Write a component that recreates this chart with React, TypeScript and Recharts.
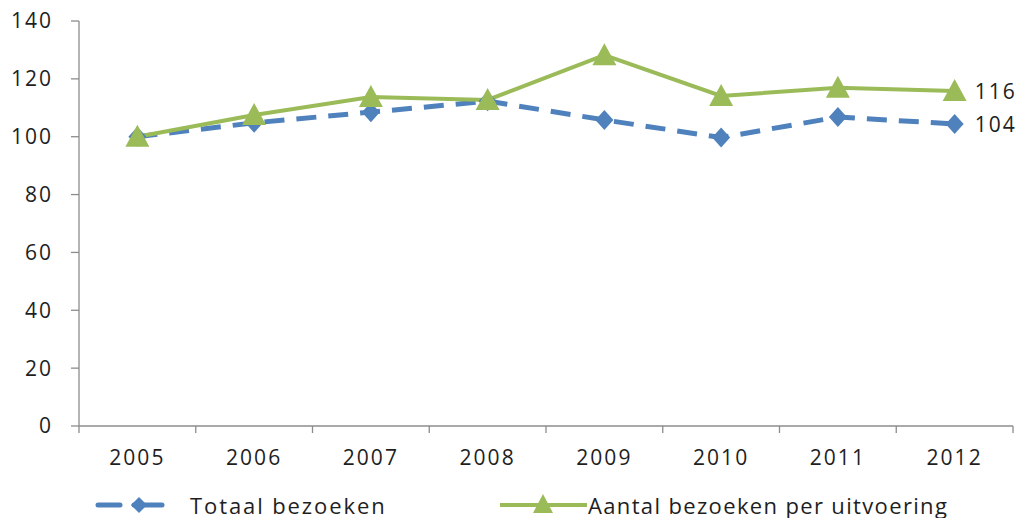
import React from 'react';
import { LineChart, Line, XAxis, YAxis, Legend, LabelList } from 'recharts';

const years = ['2005', '2006', '2007', '2008', '2009', '2010', '2011', '2012'];
const totaalBezoeken = [100, 104.8, 108.5, 112.3, 105.8, 99.7, 106.8, 104.4];
const aantalPerUitvoering = [100, 107.5, 113.7, 112.7, 128.2, 114.1, 116.9, 115.8];
const yTicks = [0, 20, 40, 60, 80, 100, 120, 140];
const seriesNames = ['Totaal bezoeken', 'Aantal bezoeken per uitvoering'];

const data = years.map((y, i) => ({
  year: y,
  totaal: totaalBezoeken[i],
  aantal: aantalPerUitvoering[i],
}));

const BLUE = '#4F81BD';
const GREEN = '#9BBB59';
const AXIS = '#8C8C8C';
const TEXT = '#1E1E1E';
const FONT = '"Open Sans", "DejaVu Sans", sans-serif';
const FS = 21;
const LS = 2;

const Diamond = (props: any) => {
  const { cx, cy } = props;
  if (cx == null || cy == null) return null;
  return <polygon points={`${cx},${cy - 10} ${cx + 9},${cy} ${cx},${cy + 10} ${cx - 9},${cy}`} fill={BLUE} />;
};

const Triangle = (props: any) => {
  const { cx, cy } = props;
  if (cx == null || cy == null) return null;
  return <polygon points={`${cx},${cy - 12} ${cx + 12},${cy + 10} ${cx - 12},${cy + 10}`} fill={GREEN} />;
};

const XTick = (props: any) => {
  const { x, y, payload, index } = props;
  const off = payload && payload.offset ? payload.offset : 0;
  const last = index === years.length - 1;
  const axisY = y - 24;
  return (
    <g>
      <line x1={x - off} x2={x - off} y1={axisY} y2={axisY + 7} stroke={AXIS} strokeWidth={1.3} />
      {last && <line x1={x + off} x2={x + off} y1={axisY} y2={axisY + 7} stroke={AXIS} strokeWidth={1.3} />}
      <text x={x} y={y} dy="0.71em" textAnchor="middle" fill={TEXT} fontSize={FS} fontFamily={FONT} letterSpacing={LS}>
        {payload.value}
      </text>
    </g>
  );
};

const EndLabel = (props: any) => {
  const { x, y, value, index } = props;
  if (index !== years.length - 1) return null;
  return (
    <text x={x + 20} y={y} dominantBaseline="central" fill={TEXT} fontSize={FS} fontFamily={FONT} letterSpacing={LS}>
      {Math.round(value)}
    </text>
  );
};

const LegendContent = () => (
  <svg width={1030} height={38}>
    <line x1={98} x2={120} y1={19} y2={19} stroke={BLUE} strokeWidth={5} strokeLinecap="round" />
    <line x1={134} x2={162} y1={19} y2={19} stroke={BLUE} strokeWidth={5} strokeLinecap="round" />
    <polygon points={`139,${19 - 8} 147,19 139,${19 + 8} 131,19`} fill={BLUE} />
    <text x={190} y={19} dominantBaseline="central" fill={TEXT} fontSize={22} fontFamily={FONT} letterSpacing={1.9}>
      {seriesNames[0]}
    </text>
    <line x1={500} x2={587} y1={19} y2={19} stroke={GREEN} strokeWidth={4} />
    <polygon points={`543,${19 - 11} 553,${19 + 8} 533,${19 + 8}`} fill={GREEN} />
    <text x={588} y={19} dominantBaseline="central" fill={TEXT} fontSize={22} fontFamily={FONT} letterSpacing={1.35}>
      {seriesNames[1]}
    </text>
  </svg>
);

export default function App() {
  return (
    <div style={{ position: 'absolute', left: 0, top: 0, width: 1030, height: 518, background: '#fff' }}>
      <LineChart width={1030} height={518} data={data} margin={{ top: 21, right: 17, bottom: 0, left: 0 }}>
        <XAxis
          dataKey="year"
          scale="band"
          height={92}
          axisLine={{ stroke: AXIS, strokeWidth: 1.3 }}
          tickLine={false}
          tickSize={0}
          tickMargin={24}
          tick={<XTick />}
          interval={0}
        />
        <YAxis
          width={79}
          domain={[0, 140]}
          ticks={yTicks}
          axisLine={{ stroke: AXIS, strokeWidth: 1.3 }}
          tickLine={{ stroke: AXIS, strokeWidth: 1.3 }}
          tickSize={8}
          tickMargin={18}
          tick={{ fill: TEXT, fontSize: FS, fontFamily: FONT, letterSpacing: LS }}
        />
        <Legend
          layout="horizontal"
          verticalAlign="middle"
          align="center"
          content={<LegendContent />}
          wrapperStyle={{ position: 'absolute', left: 0, top: 486, width: 1030, height: 38 }}
        />
        <Line
          dataKey="totaal"
          name={seriesNames[0]}
          stroke={BLUE}
          strokeWidth={5}
          strokeDasharray="20 12"
          dot={<Diamond />}
          activeDot={false}
          isAnimationActive={false}
        >
          <LabelList dataKey="totaal" content={<EndLabel />} />
        </Line>
        <Line
          dataKey="aantal"
          name={seriesNames[1]}
          stroke={GREEN}
          strokeWidth={4}
          dot={<Triangle />}
          activeDot={false}
          isAnimationActive={false}
        >
          <LabelList dataKey="aantal" content={<EndLabel />} />
        </Line>
      </LineChart>
    </div>
  );
}
